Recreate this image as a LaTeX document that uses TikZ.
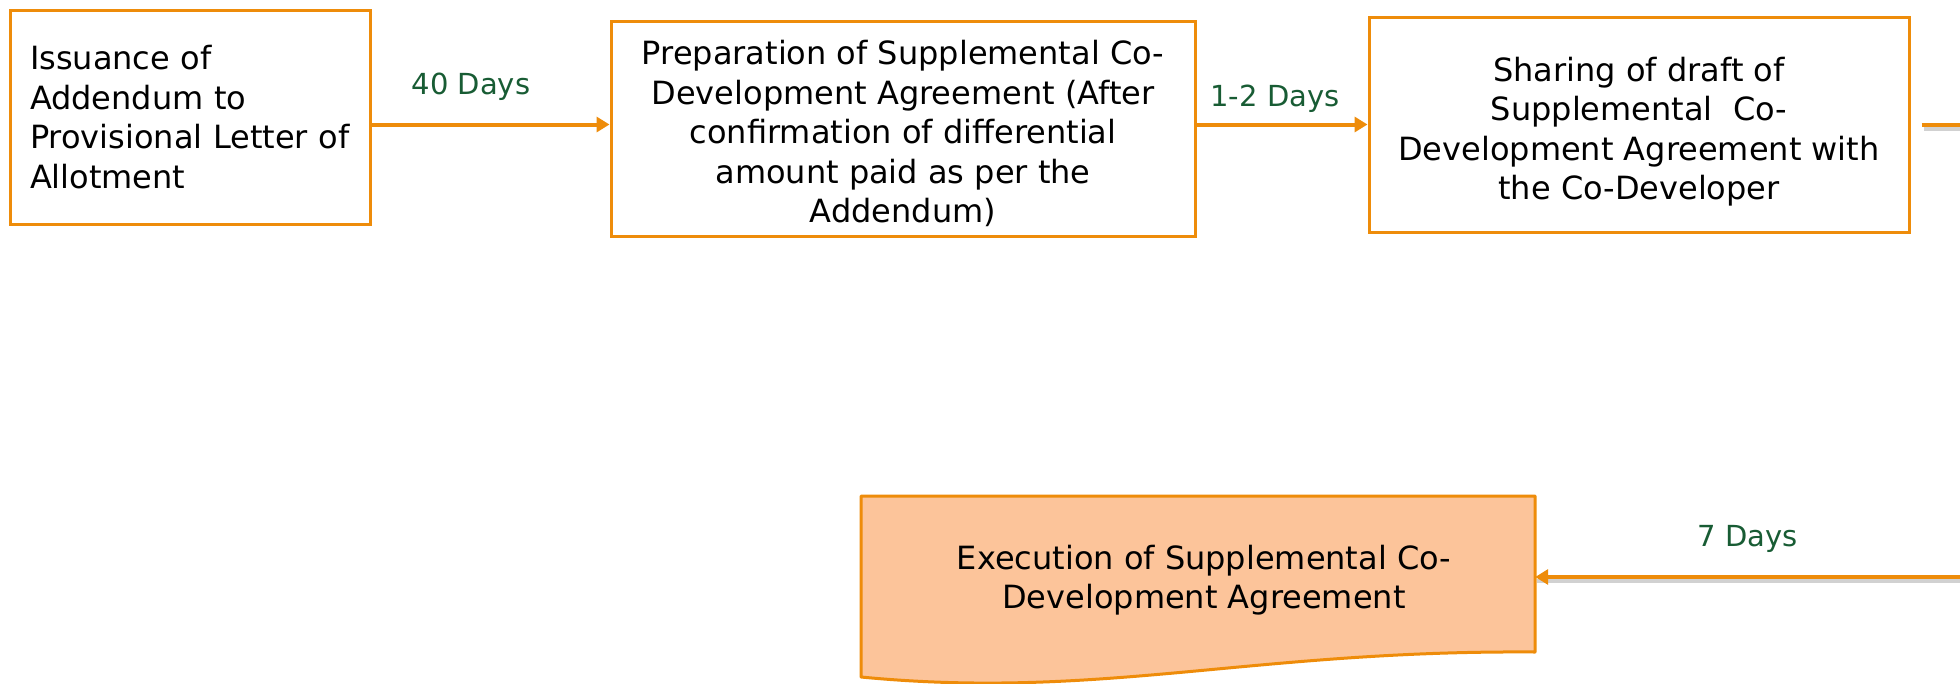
\documentclass[tikz,border=0pt]{standalone}
\usepackage{fontspec}
\setmainfont{DejaVu Sans}
\usetikzlibrary{arrows.meta}
\definecolor{flowor}{RGB}{238,140,10}
\definecolor{docfill}{RGB}{252,196,154}
\definecolor{daygreen}{RGB}{24,92,52}
\tikzset{
  stepbox/.style={draw=flowor, line width=3pt, fill=white, inner sep=0pt},
  steptext/.style={inner sep=0pt, align=center, font=\fontsize{32}{39.5}\selectfont},
  flow/.style={draw=flowor, line width=4pt, -{Triangle[length=13pt,width=15pt]}},
  flowshadow/.style={draw=black!18, line width=4pt},
  days/.style={text=daygreen, font=\fontsize{29}{35}\selectfont}
}
\begin{document}
\begin{tikzpicture}[x=1pt,y=-1pt]
\clip (0,0) rectangle (1960,683);
\fill[white] (0,0) rectangle (1960,683);

% process steps: frames, then their texts
\node[stepbox, minimum width=360, minimum height=214] (s1) at (190,117) {};
\node[steptext, text width=320, align=left] (t1) at (s1)
  {Issuance of\\Addendum to\\Provisional Letter of\\Allotment};
\node[stepbox, minimum width=584, minimum height=215] (s2) at (903,128.5) {};
\node[steptext] (t2) at ([yshift=-5pt]s2)
  {Preparation of Supplemental Co-\\Development Agreement (After\\confirmation of differential\\amount paid as per the\\Addendum)};
\node[stepbox, minimum width=540, minimum height=215] (s3) at (1639,124.5) {};
\node[steptext] (t3) at ([yshift=-7pt]s3)
  {Sharing of draft of\\Supplemental\ \ Co-\\Development Agreement with\\the Co-Developer};

% final document-shaped step
\filldraw[draw=flowor, fill=docfill, line width=3pt, line join=round]
  (861,496) -- (1535,496) -- (1535,652)
  .. controls (1250,650) and (1100,700) .. (861,677) -- cycle;
\node[inner sep=0pt, minimum width=674, minimum height=162] (exe) at (1198,577) {};
\node[steptext] (t4) at ([xshift=6pt,yshift=-3pt]exe)
  {Execution of Supplemental Co-\\Development Agreement};

% connectors
\draw[flow] (s1.east |- s3.west) -- (s2.west |- s3.west);
\draw[flow] (s2.east |- s3.west) -- (s3.west);
\draw[flowshadow] ([xshift=13pt,yshift=-4pt]s3.east) -- ++(40,0) |- ([xshift=2pt,yshift=-4pt]exe.east);
\draw[flow] ([xshift=11pt]s3.east) -- ++(52,0) |- (exe.east);

% durations
\node[days] (d1) at (471,86.5) {40 Days};
\node[days] (d2) at (1275,98.5) {1-2 Days};
\node[days] (d3) at (1748,539) {7 Days};
\end{tikzpicture}
\end{document}
